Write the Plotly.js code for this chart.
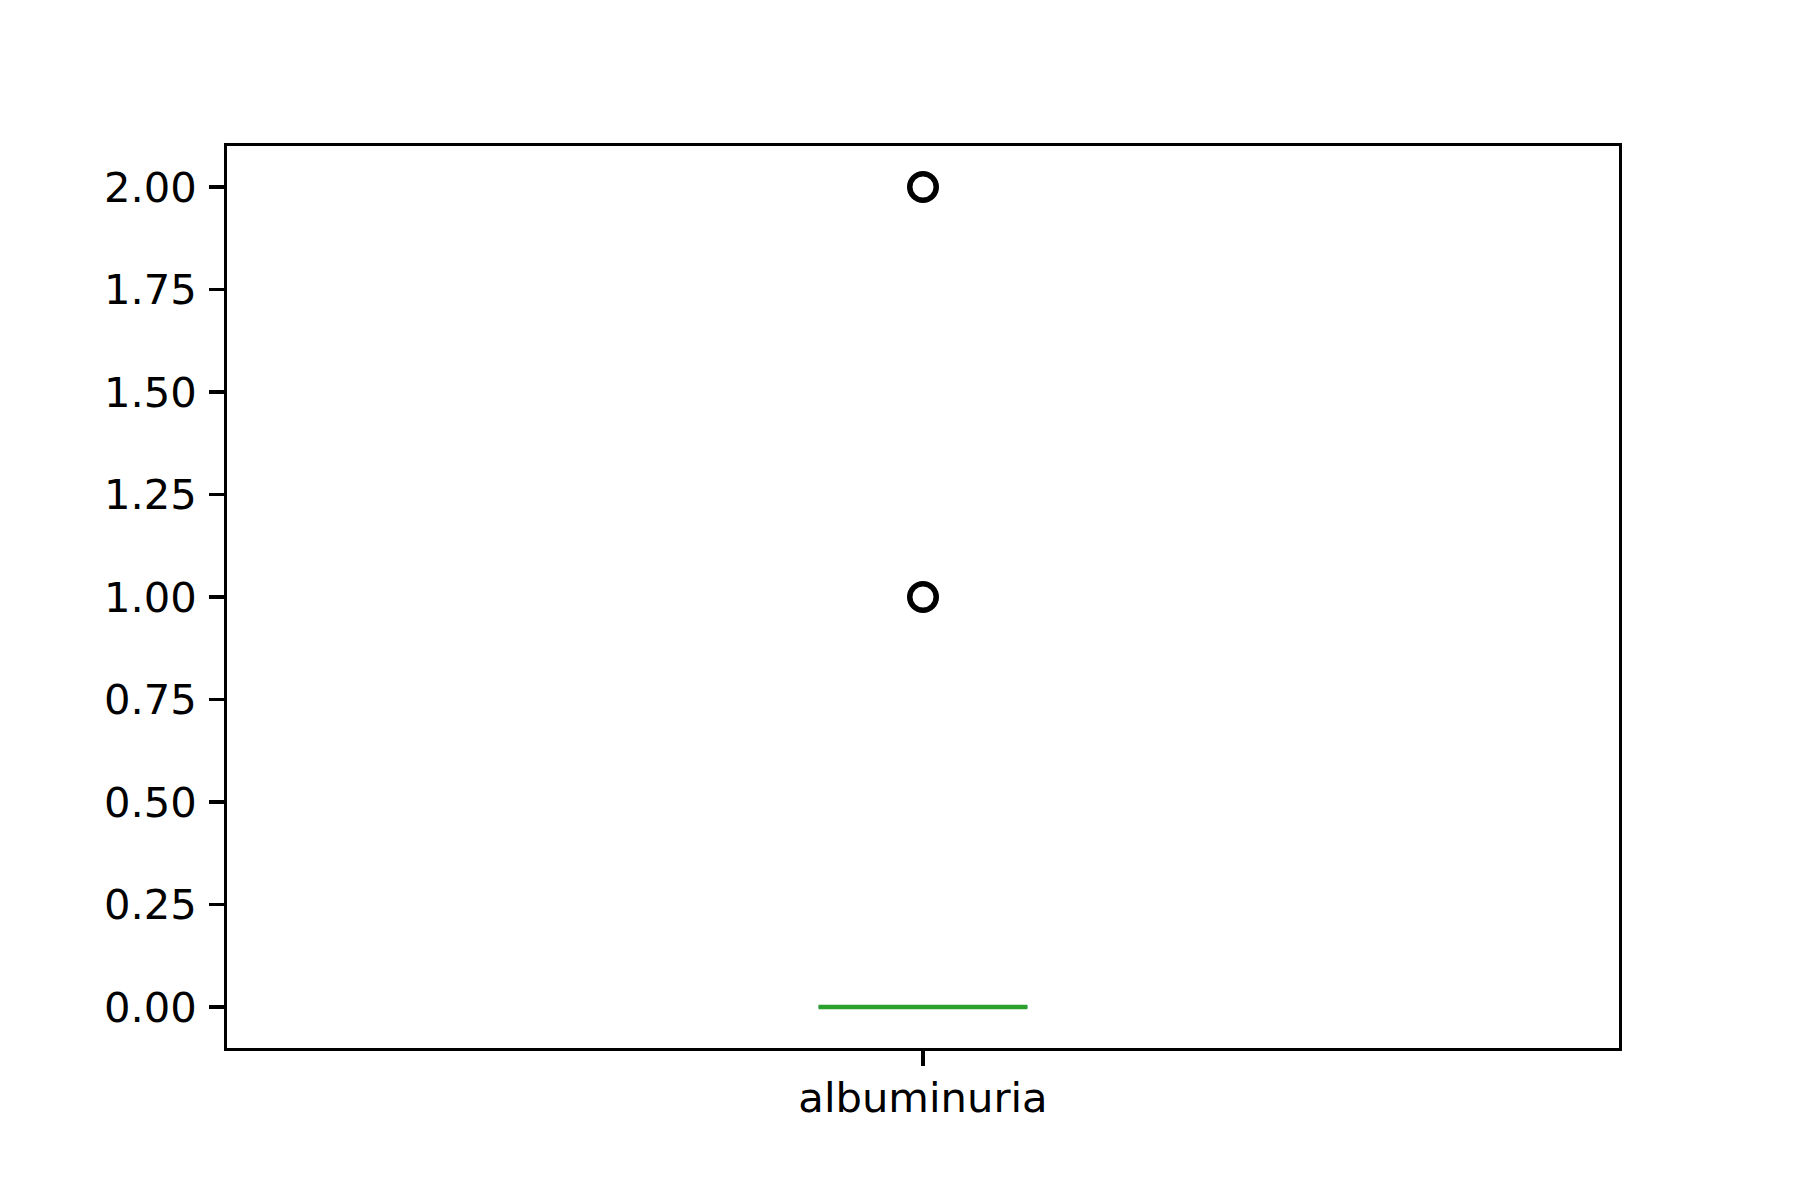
<!DOCTYPE html>
<html>
<head>
<meta charset="utf-8">
<script src="https://cdn.plot.ly/plotly-3.0.1.min.js"></script>
<style>html,body{margin:0;padding:0;background:#fff;}#chart{width:1800px;height:1200px;}</style>
</head>
<body>
<div id="chart"></div>
<script>
// Data (summary statistics of the box plot)
const categories = ["albuminuria"];
const positions = [1];
const q1 = [0];
const medians = [0];
const q3 = [0];
const lowerWhisker = [0];
const upperWhisker = [0];
const outliers = [[1, 2]];
const yTicks = [0, 0.25, 0.5, 0.75, 1.0, 1.25, 1.5, 1.75, 2.0];

const boxWidth = 0.15;
const traces = [];

traces.push({
  type: "box",
  x: positions,
  q1: q1, median: medians, q3: q3,
  lowerfence: lowerWhisker, upperfence: upperWhisker,
  width: boxWidth,
  whiskerwidth: 0.5,
  line: {color: "#1f77b4", width: 2.5},
  fillcolor: "rgba(0,0,0,0)",
  boxpoints: false,
  hoverinfo: "skip",
  showlegend: false
});

// median lines (green) and outliers
positions.forEach((p, i) => {
  traces.push({
    type: "scatter", mode: "lines",
    x: [p - boxWidth / 2, p + boxWidth / 2],
    y: [medians[i], medians[i]],
    line: {color: "#2ca02c", width: 4.4},
    hoverinfo: "skip", showlegend: false
  });
  traces.push({
    type: "scatter", mode: "markers",
    x: outliers[i].map(() => p),
    y: outliers[i],
    marker: {symbol: "circle-open", size: 26.5, color: "#000000", line: {width: 5.5, color: "#000000"}},
    hoverinfo: "skip", showlegend: false
  });
});

const font = {family: "DejaVu Sans, sans-serif", size: 41.7, color: "#000000"};

const layout = {
  width: 1800, height: 1200,
  paper_bgcolor: "#ffffff", plot_bgcolor: "#ffffff",
  margin: {l: 227, r: 181, t: 146, b: 152, pad: 0},
  showlegend: false,
  font: font,
  xaxis: {
    range: [0.5, 1.5],
    tickmode: "array", tickvals: positions, ticktext: categories,
    showgrid: false, zeroline: false,
    showline: true, linecolor: "#000", linewidth: 3.3, mirror: true,
    ticks: "outside", ticklen: 14.6, tickwidth: 3.3, tickcolor: "#000",
    ticklabelstandoff: -4,
    tickfont: font
  },
  yaxis: {
    range: [-0.1, 2.1],
    tickmode: "array", tickvals: yTicks, ticktext: yTicks.map(v => v.toFixed(2)),
    showgrid: false, zeroline: false,
    showline: true, linecolor: "#000", linewidth: 3.3, mirror: true,
    ticks: "outside", ticklen: 14.6, tickwidth: 3.3, tickcolor: "#000",
    ticklabelstandoff: 4,
    tickfont: font
  }
};

Plotly.newPlot("chart", traces, layout, {displayModeBar: false, staticPlot: true});
</script>
</body>
</html>
